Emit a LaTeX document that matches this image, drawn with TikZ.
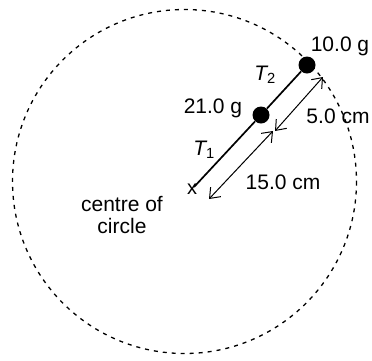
\documentclass[tikz,border=0pt]{standalone}
\usepackage{fontspec}
\setmainfont{Liberation Sans}
\usetikzlibrary{arrows.meta}
\begin{document}
\begin{tikzpicture}[x=1pt,y=-1pt,
  lbl/.style={font=\fontsize{21}{22}\selectfont, inner sep=0pt},
  ball/.style={circle, fill=black, minimum size=17pt, inner sep=0pt},
  rod/.style={line width=1.7pt},
  dim/.style={line width=1pt, {Straight Barb[length=9pt,width=14pt]}-{Straight Barb[length=9pt,width=14pt]}},
  orbit/.style={line width=1.3pt, dash pattern=on 4pt off 5pt}]
\useasboundingbox (0,0) rectangle (372,360);
\draw[orbit] (184.5,181.5) circle (172);
\node[lbl, font=\fontsize{20}{20}\selectfont] (centre) at (192,189) {x};
\node[ball] (m2) at (307,65) {};
\node[ball] (m1) at (261,115) {};
\coordinate (c0) at (194,187);
\draw[rod] (c0) -- (m1) -- (m2);
\coordinate (a1) at (323,77);
\coordinate (a2) at (275,131);
\coordinate (b1) at (273,131);
\coordinate (b2) at (209,199);
\draw[dim] (a1) -- (a2);
\draw[dim] (b1) -- (b2);
\node[lbl] (l10) at (340,46) {10.0 g};
\node[lbl] (l21) at (213,108) {21.0 g};
\node[lbl] (t2) at (265,75) {\itshape T\textsubscript{\upshape 2}};
\node[lbl] (t1) at (204,150) {\itshape T\textsubscript{\upshape 1}};
\node[lbl] (l5) at (338,116) {5.0 cm};
\node[lbl] (l15) at (283,182) {15.0 cm};
\node[lbl, align=center] (cc) at (122,215) {centre of\\circle};
\end{tikzpicture}
\end{document}
